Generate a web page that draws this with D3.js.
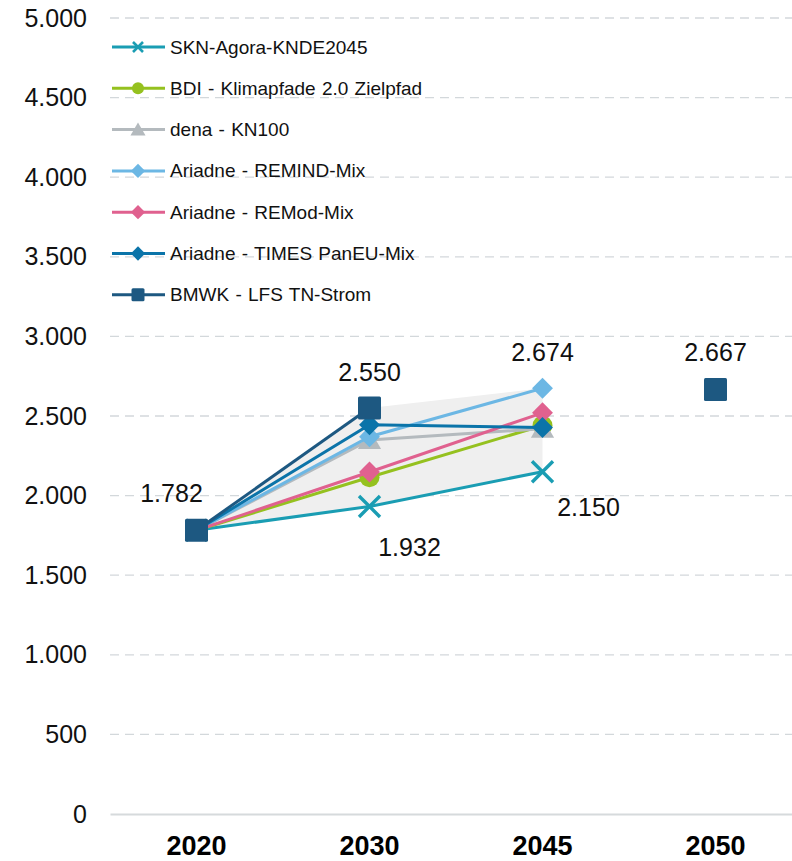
<!DOCTYPE html>
<html>
<head>
<meta charset="utf-8">
<script src="https://cdn.jsdelivr.net/npm/d3@7"></script>
<style>
  body { margin: 0; background: #fff; }
  text { font-family: "Liberation Sans", Arial, sans-serif; }
</style>
</head>
<body>
<div id="chart"></div>
<script>
// categories and values
const years = ["2020", "2030", "2045", "2050"];
const yTicks = [0, 500, 1000, 1500, 2000, 2500, 3000, 3500, 4000, 4500, 5000];

const seriesNames = [
  "SKN-Agora-KNDE2045",
  "BDI - Klimapfade 2.0 Zielpfad",
  "dena - KN100",
  "Ariadne - REMIND-Mix",
  "Ariadne - REMod-Mix",
  "Ariadne - TIMES PanEU-Mix",
  "BMWK - LFS TN-Strom"
];
const seriesColors = ["#1a9db3", "#95c11f", "#b4babe", "#6cb7e4", "#e0618f", "#0b74a9", "#1d5881"];
const seriesMarkers = ["cross", "circle", "triangle", "diamond", "diamond", "diamond", "square"];

// values per year: 2020, 2030, 2045, 2050 (null = no value)
const skn    = [1782, 1932, 2150, null];
const bdi    = [1782, 2115, 2440, null];
const dena   = [1782, 2350, 2420, null];
const remind = [1782, 2370, 2674, null];
const remod  = [1782, 2148, 2520, null];
const times  = [1782, 2445, 2428, null];
const bmwk   = [1782, 2550, null, 2667];
const seriesValues = [skn, bdi, dena, remind, remod, times, bmwk];

// labelled points
const labelPoints = [
  ["2020", 1782], ["2030", 2550], ["2045", 2674], ["2050", 2667], ["2030", 1932], ["2045", 2150]
];

const width = 792, height = 861;
const margin = { top: 18, right: 0, bottom: 47, left: 110 };
const innerW = width - margin.left - margin.right;
const innerH = height - margin.top - margin.bottom;

const svg = d3.select("#chart").append("svg")
  .attr("width", width)
  .attr("height", height);

const g = svg.append("g")
  .attr("transform", "translate(" + margin.left + "," + margin.top + ")");

// plot area runs a little past the right edge of the window
const x = d3.scaleBand().domain(years).range([0, 692]);
const y = d3.scaleLinear().domain([0, 5000]).range([innerH, 0]);
const cx = d => x(d) + x.bandwidth() / 2;
const fmt = v => d3.format(",")(v).replace(/,/g, ".");

// gridlines
g.append("g")
  .selectAll("line")
  .data(yTicks.filter(t => t > 0))
  .enter().append("line")
  .attr("x1", 0).attr("x2", innerW)
  .attr("y1", d => y(d)).attr("y2", d => y(d))
  .attr("stroke", "#d3d8db")
  .attr("stroke-width", 1.3)
  .attr("stroke-dasharray", "9,6");

// y axis labels
const yAxis = g.append("g")
  .call(d3.axisLeft(y).tickValues(yTicks).tickSize(0).tickPadding(23).tickFormat(fmt));
yAxis.select(".domain").remove();
yAxis.selectAll("text")
  .attr("font-size", 25)
  .attr("fill", "#111")
  .attr("font-family", "Liberation Sans, Arial, sans-serif");

// x axis
const xAxis = g.append("g")
  .attr("transform", "translate(0," + innerH + ")")
  .call(d3.axisBottom(x).tickSize(0).tickPadding(22));
xAxis.select(".domain").attr("stroke", "#d6dadc").attr("stroke-width", 2);
xAxis.selectAll("text")
  .attr("font-size", 27)
  .attr("font-weight", "bold")
  .attr("fill", "#000")
  .attr("font-family", "Liberation Sans Narrow, Arial Narrow, Liberation Sans, sans-serif");

// min-max range band over 2020..2045
const bandYears = ["2020", "2030", "2045"];
const bandData = bandYears.map(yr => {
  const i = years.indexOf(yr);
  const vals = seriesValues.map(s => s[i]).filter(v => v != null);
  return { year: yr, lo: d3.min(vals), hi: d3.max(vals) };
});
g.append("path")
  .datum(bandData)
  .attr("fill", "#efefef")
  .attr("d", d3.area()
    .x(d => cx(d.year))
    .y0(d => y(d.lo))
    .y1(d => y(d.hi)));

// marker drawing
function drawMarker(sel, type, color, size, sw) {
  const s = size;
  if (type === "cross") {
    sel.append("path")
      .attr("d", `M${-s / 2},${-s / 2}L${s / 2},${s / 2}M${-s / 2},${s / 2}L${s / 2},${-s / 2}`)
      .attr("stroke", color).attr("stroke-width", sw || 3.4).attr("fill", "none");
  } else if (type === "circle") {
    sel.append("circle").attr("r", s * 0.5).attr("fill", color);
  } else if (type === "triangle") {
    sel.append("path")
      .attr("d", `M0,${-s * 0.55}L${s * 0.58},${s * 0.45}L${-s * 0.58},${s * 0.45}Z`)
      .attr("fill", color);
  } else if (type === "diamond") {
    sel.append("path")
      .attr("d", `M0,${-s * 0.55}L${s * 0.55},0L0,${s * 0.55}L${-s * 0.55},0Z`)
      .attr("fill", color);
  } else if (type === "square") {
    sel.append("rect")
      .attr("x", -s / 2).attr("y", -s / 2).attr("width", s).attr("height", s)
      .attr("rx", 1.5)
      .attr("fill", color);
  }
}
const plotSize = { cross: 21, circle: 20, triangle: 20, diamond: 19, square: 23 };
const legendSize = { cross: 10, circle: 12, triangle: 13, diamond: 13, square: 13 };

// lines and markers, drawn in series order
const line = d3.line()
  .defined(d => d.v != null)
  .x(d => cx(d.year))
  .y(d => y(d.v));

seriesValues.forEach((vals, i) => {
  const pts = years.map((yr, j) => ({ year: yr, v: vals[j] }));
  g.append("path")
    .datum(pts)
    .attr("fill", "none")
    .attr("stroke", seriesColors[i])
    .attr("stroke-width", 3)
    .attr("d", line);
  pts.filter(p => p.v != null).forEach(p => {
    const m = g.append("g").attr("transform", `translate(${cx(p.year)},${y(p.v)})`);
    drawMarker(m, seriesMarkers[i], seriesColors[i], plotSize[seriesMarkers[i]]);
  });
});

// data labels
const labelOffsets = [[-25, -37], [0, -36], [0, -36], [0, -37], [40, 41], [46, 35]];
g.append("g")
  .selectAll("text")
  .data(labelPoints)
  .enter().append("text")
  .attr("x", (d, i) => cx(d[0]) + labelOffsets[i][0])
  .attr("y", (d, i) => y(d[1]) + labelOffsets[i][1])
  .attr("text-anchor", "middle")
  .attr("dominant-baseline", "central")
  .attr("font-size", 25)
  .attr("fill", "#111")
  .text(d => fmt(d[1]));

// legend
const legend = svg.append("g").attr("transform", "translate(112,47)");
const rowH = 41.3;
seriesNames.forEach((name, i) => {
  const row = legend.append("g").attr("transform", `translate(0,${i * rowH})`);
  row.append("line")
    .attr("x1", 0).attr("x2", 53).attr("y1", 0).attr("y2", 0)
    .attr("stroke", seriesColors[i]).attr("stroke-width", 3);
  const m = row.append("g").attr("transform", "translate(26,0)");
  drawMarker(m, seriesMarkers[i], seriesColors[i], legendSize[seriesMarkers[i]], 2.6);
  row.append("text")
    .attr("x", 58)
    .attr("y", 0)
    .attr("dominant-baseline", "central")
    .attr("font-size", 19)
    .attr("word-spacing", 1)
    .attr("fill", "#111")
    .text(name);
});
</script>
</body>
</html>
